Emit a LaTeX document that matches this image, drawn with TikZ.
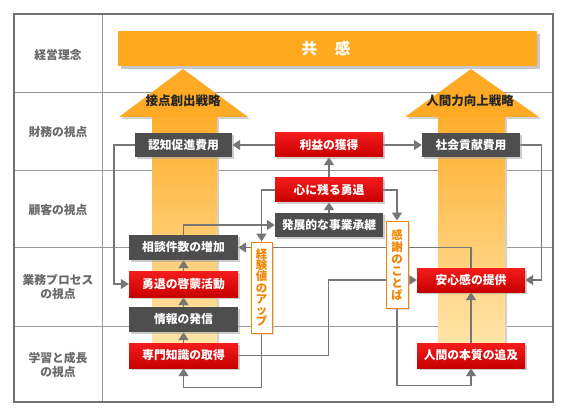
\documentclass[tikz,border=0pt]{standalone}
\usepackage{fontspec}
\setmainfont{Noto Sans CJK JP}
\usetikzlibrary{arrows.meta,shadows,calc}
\definecolor{conncol}{HTML}{767676}
\definecolor{divcol}{HTML}{9A9A9A}
\definecolor{framecol}{HTML}{707070}
\definecolor{bannerorange}{HTML}{FFA91F}
\definecolor{headorange}{HTML}{FFAA25}
\definecolor{shafttop}{HTML}{FFAE2C}
\definecolor{shaftbot}{HTML}{FFE4A8}
\definecolor{redtop}{HTML}{F41C1C}
\definecolor{redbot}{HTML}{C80000}
\definecolor{boxgray}{HTML}{4E4E4E}
\definecolor{labelgray}{HTML}{6A6A6A}
\definecolor{vorange}{HTML}{F28400}
\pgfdeclarelayer{bg}
\pgfdeclarelayer{lines}
\pgfsetlayers{bg,lines,main}
\tikzset{
  boxbase/.style={minimum height=24pt, inner sep=0pt, text=white,
    font=\bfseries\fontsize{11.8}{12}\selectfont,
    drop shadow={shadow xshift=2pt, shadow yshift=-2pt, fill=black!35, opacity=0.55}},
  redbox/.style={boxbase, top color=redtop, bottom color=redbot},
  graybox/.style={boxbase, fill=boxgray},
  vlabel/.style={draw=vorange, line width=0.9pt, fill=white, inner sep=0pt,
    align=center, text=vorange,
    drop shadow={shadow xshift=1.5pt, shadow yshift=-1.5pt, fill=black!25, opacity=0.5}},
  sidelabel/.style={align=center, text=labelgray, font=\bfseries\fontsize{11.8}{14.5}\selectfont},
  arrowlabel/.style={inner sep=1.5pt, font=\bfseries\fontsize{12.5}{13}\selectfont, text=black!85},
  conn/.style={draw=conncol, line width=1.4pt, -{Triangle[width=10pt,length=8pt]}},
  divline/.style={draw=divcol, line width=0.8pt}
}
\begin{document}
\begin{tikzpicture}[x=1pt,y=-1pt]
\useasboundingbox (0,0) rectangle (568,417);

\begin{pgfonlayer}{bg}
  \fill[white] (0,0) rectangle (568,417);
  % table grid
  \draw[divline] (102,14) -- (102,402);
  \foreach \yy in {92,170,247,326} \draw[divline] (14,\yy) -- (553,\yy);
  \draw[framecol, line width=2pt] (14,14) rectangle (553,402);
  % banner
  \fill[black!22] (121,34) rectangle (540,69);
  \fill[bannerorange] (118,31) rectangle (537,66);
  % left arrow
  \fill[black!18] (185,71) -- (250,119) -- (219,119) -- (219,345) -- (154,345) -- (154,119) -- (121,119) -- cycle;
  \shade[top color=shafttop, bottom color=shaftbot] (152,116) rectangle (217,343);
  \fill[headorange] (183,69) -- (248,117) -- (119,117) -- cycle;
  % right arrow
  \fill[black!18] (473,71) -- (541,119) -- (507,119) -- (507,345) -- (440,345) -- (440,119) -- (407,119) -- cycle;
  \shade[top color=shafttop, bottom color=shaftbot] (438,116) rectangle (505,343);
  \fill[headorange] (471,69) -- (539,117) -- (405,117) -- cycle;
\end{pgfonlayer}

% banner text
\node[font=\bfseries\fontsize{15.5}{15.5}\selectfont, text=white] (kyokan) at (326,49) {共\hspace{1.15em}感};

% side labels
\node[sidelabel] (l1) at (58,55) {経営理念};
\node[sidelabel] (l2) at (58,132) {財務の視点};
\node[sidelabel] (l3) at (58,210) {顧客の視点};
\node[sidelabel] (l4) at (58,287) {業務プロセス\\の視点};
\node[sidelabel] (l5) at (58,365) {学習と成長\\の視点};

% arrow labels
\node[arrowlabel] (lstrat) at (183,101) {接点創出戦略};
\node[arrowlabel] (rstrat) at (470,101) {人間力向上戦略};

% boxes
\node[graybox, minimum width=97pt] (ninchi) at (183.5,145) {認知促進費用};
\node[redbox, minimum width=108pt] (rieki) at (329,145) {利益の獲得};
\node[graybox, minimum width=98pt] (shakai) at (471,145) {社会貢献費用};
\node[redbox, minimum width=108pt] (kokoro) at (329,190) {心に残る勇退};
\node[graybox, minimum width=108pt] (hatten) at (329,225) {発展的な事業承継};
\node[graybox, minimum width=109pt, minimum height=25pt] (soudan) at (183.5,247.5) {相談件数の増加};
\node[redbox, minimum width=109pt, minimum height=26pt] (keimou) at (183.5,284) {勇退の啓蒙活動};
\node[graybox, minimum width=109pt, minimum height=25pt] (hasshin) at (183.5,319.5) {情報の発信};
\node[redbox, minimum width=109pt, minimum height=25pt] (senmon) at (183.5,355.5) {専門知識の取得};
\node[redbox, minimum width=108pt] (anshin) at (471,280) {安心感の提供};
\node[redbox, minimum width=108pt, minimum height=25pt] (ningen) at (471,355.5) {人間の本質の追及};

% vertical labels
\node[vlabel, minimum width=21pt, minimum height=91pt,
  font=\bfseries\fontsize{11.5}{11.3}\selectfont] (keiken) at (261.5,287.5)
  {経\\験\\値\\の\\ア\\ッ\\プ};
\node[vlabel, minimum width=22pt, minimum height=87pt,
  font=\bfseries\fontsize{11.5}{12}\selectfont] (kansha) at (397,264.5)
  {感\\謝\\の\\こ\\と\\ば};

% connectors
\begin{pgfonlayer}{lines}
  \draw[conn] (rieki.west) -- (ninchi.east);
  \draw[conn] (rieki.east) -- (shakai.west);
  \draw[conn] (ninchi.west) -- ++(-21,0) |- (keimou.west);
  \draw[conn] (shakai.east) -- ++(21,0) |- (anshin.east);
  \draw[conn] (kokoro.north) -- (rieki.south);
  \draw[conn] (hatten.north) -- (kokoro.south);
  \draw[conn] (kokoro.west) -| (keiken.north);
  \draw[conn] (kokoro.east) -| (kansha.north);
  \draw[conn] (soudan.north) |- (hatten.west);
  \draw[conn] (anshin.north) |- (soudan.east);
  \draw[conn] (senmon.east) -- ++(90,0) |- (anshin.west);
  \draw[conn] (keiken.south) -- ++(0,54) -| (senmon.south);
  \draw[conn] (kansha.south) -- ++(0,77) -| (ningen.south);
  \draw[conn] (ningen.north) -- (anshin.south);
  \draw[conn] (senmon.north) -- (hasshin.south);
  \draw[conn] (hasshin.north) -- (keimou.south);
  \draw[conn] (keimou.north) -- (soudan.south);
\end{pgfonlayer}
\end{tikzpicture}
\end{document}
